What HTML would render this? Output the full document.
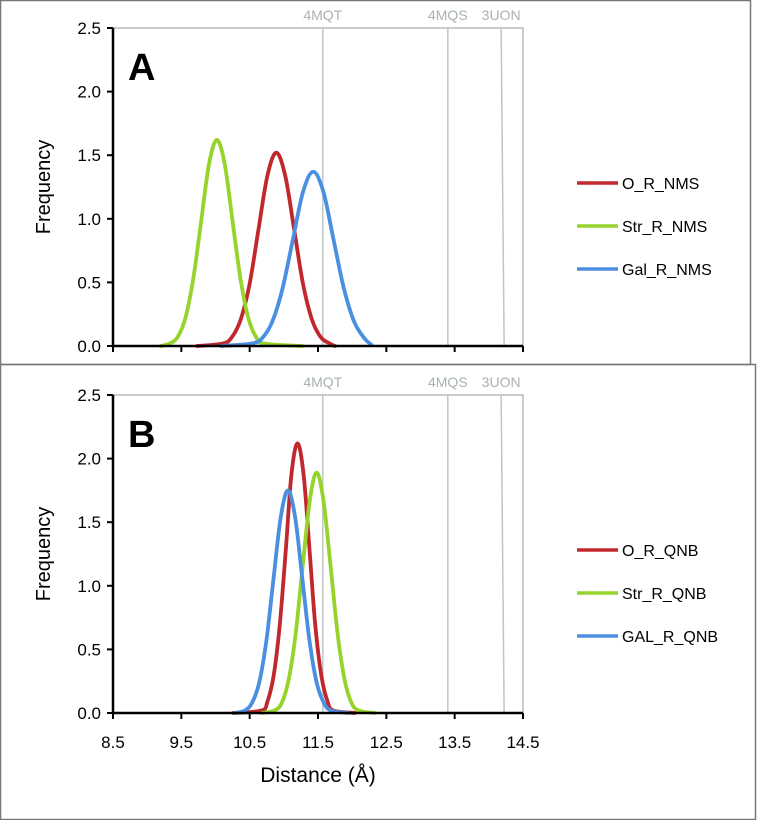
<!DOCTYPE html>
<html><head><meta charset="utf-8"><style>
body{margin:0;background:#fff;}
svg{display:block;font-family:"Liberation Sans",sans-serif;}
</style></head><body>
<svg id="chart" width="757" height="820"></svg>
<script>
// Panel A data
const aO_x=[9.73,10.11,10.24,10.37,10.50,10.63,10.76,10.89,11.02,11.15,11.28,11.41,11.54,11.67,11.75];
const aO_y=[0,0.02,0.07,0.21,0.49,0.92,1.34,1.52,1.34,0.92,0.49,0.21,0.07,0.02,0];
const aS_x=[9.20,9.33,9.445,9.56,9.675,9.79,9.905,10.02,10.135,10.25,10.365,10.48,10.595,10.71,11.27];
const aS_y=[0,0.02,0.07,0.22,0.53,0.98,1.43,1.62,1.43,0.98,0.53,0.22,0.07,0.02,0];
const aG_x=[10.08,10.53,10.68,10.83,10.98,11.13,11.28,11.43,11.58,11.73,11.88,12.03,12.18,12.28];
const aG_y=[0,0.02,0.06,0.19,0.45,0.83,1.21,1.37,1.21,0.83,0.45,0.19,0.06,0.01];
// Panel B data
const bO_x=[10.26,10.675,10.76,10.85,10.94,11.03,11.11,11.20,11.29,11.375,11.46,11.55,11.64,11.725,12.04];
const bO_y=[0,0.02,0.09,0.29,0.69,1.29,1.87,2.12,1.87,1.29,0.69,0.29,0.09,0.02,0];
const bS_x=[10.68,10.865,10.97,11.07,11.17,11.275,11.38,11.48,11.58,11.685,11.79,11.89,11.99,12.095,12.33];
const bS_y=[0,0.02,0.08,0.26,0.61,1.15,1.67,1.89,1.67,1.15,0.61,0.26,0.08,0.02,0];
const bG_x=[10.29,10.43,10.535,10.64,10.745,10.85,10.955,11.06,11.165,11.27,11.375,11.48,11.585,11.69,11.94];
const bG_y=[0,0.02,0.08,0.24,0.57,1.06,1.54,1.75,1.54,1.06,0.57,0.24,0.08,0.02,0];
const xTicks=[8.5,9.5,10.5,11.5,12.5,13.5,14.5];
const yTicks=[0,0.5,1.0,1.5,2.0,2.5];
const refNames=["4MQT","4MQS","3UON"];
const refVals=[11.57,13.40,14.18];
const legendA=["O_R_NMS","Str_R_NMS","Gal_R_NMS"];
const legendB=["O_R_QNB","Str_R_QNB","GAL_R_QNB"];
const colors=["#c0282e","#96d42c","#4a8fe0"];

const NS="http://www.w3.org/2000/svg";
const svg=document.getElementById('chart');
function mk(tag,attrs,parent,text){const e=document.createElementNS(NS,tag);for(const k in attrs)e.setAttribute(k,attrs[k]);if(text!==undefined)e.textContent=text;(parent||svg).appendChild(e);return e;}
const X0=113,X1=523;
function xs(v){return X0+(v-8.5)/6*(X1-X0);}
function smooth(pts){
  let d="M"+pts[0][0]+","+pts[0][1];
  for(let i=0;i<pts.length-1;i++){
    const p0=pts[Math.max(0,i-1)],p1=pts[i],p2=pts[i+1],p3=pts[Math.min(pts.length-1,i+2)];
    const c1x=p1[0]+(p2[0]-p0[0])/6,c1y=p1[1]+(p2[1]-p0[1])/6;
    const c2x=p2[0]-(p3[0]-p1[0])/6,c2y=p2[1]-(p3[1]-p1[1])/6;
    d+=" C"+c1x.toFixed(2)+","+c1y.toFixed(2)+" "+c2x.toFixed(2)+","+c2y.toFixed(2)+" "+p2[0].toFixed(2)+","+p2[1].toFixed(2);
  }
  return d;
}
function panel(id,boxY,boxH,boxW,top,bottom,letter,series,legend,legY,showX){
  const g=mk('g',{});
  
  
  const fr=mk('rect',{x:0.5,y:boxY+0.5,width:boxW,height:boxH,fill:'none',stroke:'#777','stroke-width':1.5},g);
  
  
  const ys=v=>bottom-v/2.5*(bottom-top);
  const pb=mk('path',{d:`M${X0},${top} H${X1} V${bottom}`,fill:'none',stroke:'#999','stroke-width':1},g);
  
  
  refVals.forEach((v,i)=>{
    const l=mk('line',{x1:xs(v),y1:top,x2:xs(v)+(i==2?3:0),y2:bottom,stroke:'#bfc5c5','stroke-width':1.5},g);
    
    
    const t=mk('text',{x:xs(v),y:top-8,'text-anchor':'middle','font-size':14,fill:'#a9b1b1'},g,refNames[i]);
    
    
  });
  series.forEach((s,i)=>{
    const pts=s[0].map((x,j)=>[xs(x),ys(s[1][j])]);
    const p=mk('path',{d:smooth(pts),fill:'none',stroke:colors[i],'stroke-width':3.8,'stroke-linecap':'round'},g);
    
    
  });
  const ax=mk('path',{d:`M${X0},${top} V${bottom} H${X1}`,fill:'none',stroke:'#000','stroke-width':2.5},g);
  
  
  yTicks.forEach(v=>{
    const y=ys(v);
    mk('line',{x1:X0-6,y1:y,x2:X0,y2:y,stroke:'#000','stroke-width':2},g);
    const t=mk('text',{x:X0-12,y:y+6,'text-anchor':'end','font-size':17,fill:'#000'},g,v.toFixed(1));
    
    
  });
  xTicks.forEach(v=>{
    const x=xs(v);
    mk('line',{x1:x,y1:bottom,x2:x,y2:bottom+6,stroke:'#000','stroke-width':2},g);
    if(showX){
      const t=mk('text',{x:x,y:bottom+35,'text-anchor':'middle','font-size':17,fill:'#000'},g,String(v));
      
      
    }
  });
  const yt=mk('text',{x:0,y:0,transform:`translate(50,${(top+bottom)/2}) rotate(-90)`,'text-anchor':'middle','font-size':20,fill:'#000'},g,'Frequency');
  
  
  const lt=mk('text',{x:128,y:top+52,'font-size':38,'font-weight':'bold',fill:'#000'},g,letter);
  
  
  legend.forEach((name,i)=>{
    const y=legY+i*43;
    const le=mk('g',{},g);
    
    
    mk('line',{x1:577,y1:y,x2:618,y2:y,stroke:colors[i],'stroke-width':3.5},le);
    mk('text',{x:622,y:y+6,'font-size':16,fill:'#000'},le,name);
  });
}
panel('a',0,364,750,28,346,'A',[[aO_x,aO_y],[aS_x,aS_y],[aG_x,aG_y]],legendA,183,false);
panel('b',364,455,755,395,713,'B',[[bO_x,bO_y],[bS_x,bS_y],[bG_x,bG_y]],legendB,550,true);
const xt=mk('text',{x:318,y:782,'text-anchor':'middle','font-size':21,fill:'#000'},svg,'Distance (Å)');


</script>
</body></html>
